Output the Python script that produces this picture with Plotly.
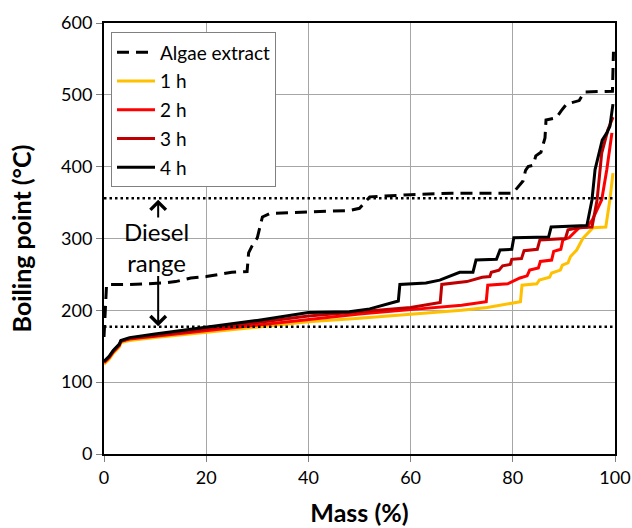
import plotly.graph_objects as go

# Mass (%) vs boiling point (°C) points for each sample
algae_mass = [0, 0.3, 0.5, 5, 11.5, 14, 17, 20, 25, 28, 28.3, 29, 30, 31, 32.5, 40, 48, 50, 52,
              60, 68, 80, 82, 82.5, 83, 84, 84.5, 85.5, 86.3, 86.5, 88.5, 89.5, 90.5, 93, 94, 99.5, 99.7]
algae_bp = [163, 200, 236, 236, 238, 240, 245, 247, 253, 254, 280, 290, 301, 330, 335, 337, 339, 342, 358,
            361, 363, 363, 380, 395, 400, 402, 415, 420, 440, 465, 468, 478, 487, 492, 504, 505, 560]

h1_mass = [0, 1, 1.8, 2.7, 3.0, 3.3, 5, 10, 20, 30, 40, 50, 60, 70, 75, 81.5, 81.8, 84.7, 85.2, 87.2,
           87.6, 89.3, 89.7, 90.8, 91.3, 92.5, 93.7, 95.7, 98.2, 99.0, 99.6]
h1_bp = [125, 132, 140, 147, 149, 155, 158, 162, 169, 176, 184, 189, 194, 200, 204, 212, 235, 237, 242, 246,
         252, 256, 263, 266, 275, 284, 300, 315, 316, 354, 391]

h2_mass = [0, 1, 1.8, 2.7, 3.0, 3.3, 5, 10, 20, 30, 40, 50, 60, 70, 74.8, 75.1, 79, 81.4, 82.8, 83.3, 85.0,
           85.4, 87.6, 88.0, 89.4, 89.8, 91.0, 93, 94.5, 95.5, 97.4, 98.4, 99.4]
h2_bp = [127, 134, 142, 149, 151, 157, 160, 164, 172, 179, 188, 195, 201, 207, 212, 235, 237, 245, 248, 256, 259,
         268, 270, 282, 285, 298, 301, 315, 316, 325, 354, 396, 447]

h3_mass = [0, 1, 1.8, 2.7, 3.0, 3.3, 5, 10, 20, 30, 40, 50, 60, 65.8, 66.1, 71, 74, 75.5, 75.8, 77.3, 78,
           79.5, 79.8, 81.7, 82.2, 84.8, 85.3, 90.3, 90.8, 93, 95.5, 96.5, 97.4, 98.6, 99.6]
h3_bp = [128, 135, 143, 150, 152, 157, 161, 165, 174, 182, 192, 198, 204, 211, 236, 240, 246, 247, 253, 256, 262,
         264, 271, 272, 283, 285, 298, 300, 312, 315, 316, 354, 419, 451, 469]

h4_mass = [0, 1, 1.8, 2.7, 3.0, 3.3, 5, 10, 20, 30, 40, 48, 52, 56.6, 57.6, 57.9, 63, 65.7, 69.6, 72.2,
           72.8, 76.8, 77.5, 79.8, 80.2, 87, 87.5, 94.5, 95.5, 96.1, 97.5, 98.4, 99.0, 99.6]
h4_bp = [129, 136, 144, 151, 153, 158, 162, 167, 176, 186, 197, 198, 202, 211, 213, 236, 238, 242, 253, 253,
         270, 271, 284, 285, 301, 302, 316, 318, 354, 396, 437, 447, 456, 487]

# Diesel boiling range limits (°C)
diesel_low = 177
diesel_high = 356

x_ticks = [0, 20, 40, 60, 80, 100]
y_ticks = [0, 100, 200, 300, 400, 500, 600]

FONT = "Lato"

fig = go.Figure()

fig.add_trace(go.Scatter(x=algae_mass, y=algae_bp, mode="lines", name="Algae extract",
                         legendgroup="a",
                         line=dict(color="black", width=3, dash="12px,7px")))
series = [
    ("1 h", h1_mass, h1_bp, "#ffc000"),
    ("2 h", h2_mass, h2_bp, "#ff0000"),
    ("3 h", h3_mass, h3_bp, "#c00000"),
    ("4 h", h4_mass, h4_bp, "#000000"),
]
for name, xs, ys, col in series:
    fig.add_trace(go.Scatter(x=xs, y=ys, mode="lines", name=name, legendgroup=name,
                             line=dict(color=col, width=3)))

# Diesel range limit lines
for yv in (diesel_low, diesel_high):
    fig.add_shape(type="line", xref="paper", x0=0, x1=1, yref="y", y0=yv, y1=yv,
                  line=dict(color="black", width=2.5, dash="2.5px,3px"), layer="above")

# Diesel range label and arrows
arrow_x = 10.6
fig.add_annotation(x=10.3, y=288, text="Diesel<br>range", showarrow=False,
                   font=dict(family=FONT, size=24, color="black"))
fig.add_annotation(x=arrow_x, y=diesel_high - 2, ax=arrow_x, ay=327, axref="x", ayref="y",
                   text="", showarrow=True, arrowhead=4, arrowsize=1.5, arrowwidth=2, arrowcolor="black")
fig.add_annotation(x=arrow_x, y=diesel_low + 1, ax=arrow_x, ay=250, axref="x", ayref="y",
                   text="", showarrow=True, arrowhead=4, arrowsize=1.5, arrowwidth=2, arrowcolor="black")

axis_common = dict(showline=True, linecolor="black", linewidth=2, mirror=True,
                   showgrid=True, gridcolor="#a6a6a6", gridwidth=1,
                   ticks="outside", ticklen=6, tickcolor="#808080", tickwidth=1,
                   zeroline=False, automargin=False,
                   tickfont=dict(family=FONT, size=18, color="black"))

fig.update_layout(
    width=632, height=528,
    margin=dict(l=104, r=17, t=23, b=74),
    paper_bgcolor="white", plot_bgcolor="white",
    font=dict(family=FONT, color="black"),
    xaxis=dict(range=[0, 100], tickvals=x_ticks,
               title=dict(text="<b>Mass (%)</b>", font=dict(family=FONT, size=25), standoff=18),
               **axis_common),
    yaxis=dict(range=[0, 600], tickvals=y_ticks,
               title=dict(text="<b>Boiling point (°C)</b>", font=dict(family=FONT, size=25), standoff=22),
               **axis_common),
    legend=dict(x=0.0137, y=0.978, xanchor="left", yanchor="top",
                bgcolor="white", bordercolor="#808080", borderwidth=1,
                font=dict(family=FONT, size=19), tracegroupgap=1,
                traceorder="grouped", itemwidth=38),
    showlegend=True,
)

fig.write_html("out.html")
